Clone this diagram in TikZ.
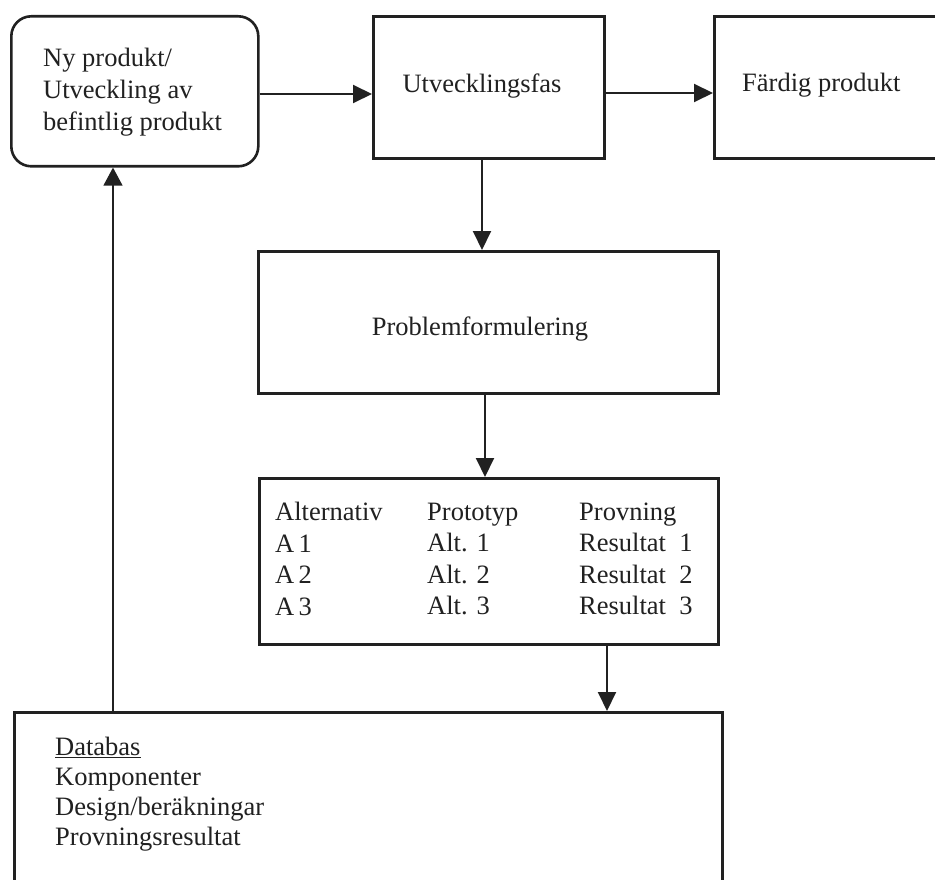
\documentclass[tikz,border=0pt]{standalone}
\usepackage{fontspec}
\setmainfont{Liberation Serif}
\usetikzlibrary{arrows.meta}
\definecolor{ink}{gray}{0.13}
\begin{document}
\begin{tikzpicture}[x=1pt,y=-1pt,
  font=\fontsize{26.5pt}{32pt}\selectfont,
  box/.style={draw=ink,line width=2.6pt,inner sep=0pt,anchor=north west},
  lbl/.style={inner sep=0pt,text=ink,align=left},
  arr/.style={draw=ink,line width=2pt,-{Triangle[length=19pt,width=18pt]}},
  thinarr/.style={draw=ink,line width=1.2pt,-{Triangle[length=18pt,width=19pt]}}]
\path[use as bounding box] (0,0) rectangle (935,880);
\clip (0,0) rectangle (935,880);
\fill[white] (0,0) rectangle (935,880);

% process boxes
\node[box,rounded corners=20pt,minimum width=247pt,minimum height=150pt] (start) at (10,15) {};
\node[lbl,anchor=west] (starttxt) at (43,92) {Ny produkt/\\Utveckling av\\befintlig produkt};

\node[box,minimum width=231pt,minimum height=142pt] (dev) at (372,15) {};
\node[lbl] (devtxt) at (482,86) {Utvecklingsfas};

\node[box,minimum width=240pt,minimum height=142pt] (done) at (713,15) {};
\node[lbl,anchor=west] (donetxt) at (742,85) {Färdig produkt};

\node[box,minimum width=460pt,minimum height=142pt] (prob) at (257,250) {};
\node[lbl] (probtxt) at (480,329) {Problemformulering};

% alternatives / prototypes / tests
\node[box,minimum width=459pt,minimum height=166pt] (alt) at (258,477) {};
\begin{scope}[font=\fontsize{26.5pt}{31.5pt}\selectfont]
\node[lbl,anchor=west] (colA) at (275,559) {Alternativ\\A\,1\\A\,2\\A\,3};
\node[lbl,anchor=west] (colB) at (427,559) {Prototyp\\Alt. 1\\Alt. 2\\Alt. 3};
\node[lbl,anchor=west] (colC) at (579,559) {Provning\\Resultat\ \ 1\\Resultat\ \ 2\\Resultat\ \ 3};
\end{scope}

% database
\node[box,minimum width=708pt,minimum height=200pt] (db) at (13,711) {};
\node[lbl,anchor=west,font=\fontsize{26.5pt}{30pt}\selectfont] (dbtxt) at (55,794)
  {\underline{Databas}\\Komponenter\\Design/beräkningar\\Provningsresultat};

% connectors
\coordinate (ya) at (0,94);
\coordinate (yb) at (0,93);
\coordinate (xa) at (482,0);
\coordinate (xb) at (485,0);
\coordinate (xc) at (607,0);
\coordinate (xd) at (113,0);
\draw[arr] (start.east |- ya) -- (dev.west |- ya);
\draw[arr] (dev.east |- yb) -- (done.west |- yb);
\draw[arr] (dev.south -| xa) -- (prob.north -| xa);
\draw[arr] (prob.south -| xb) -- (alt.north -| xb);
\draw[arr] (alt.south -| xc) -- (db.north -| xc);
\draw[thinarr] (db.north -| xd) -- (start.south -| xd);
\end{tikzpicture}
\end{document}
